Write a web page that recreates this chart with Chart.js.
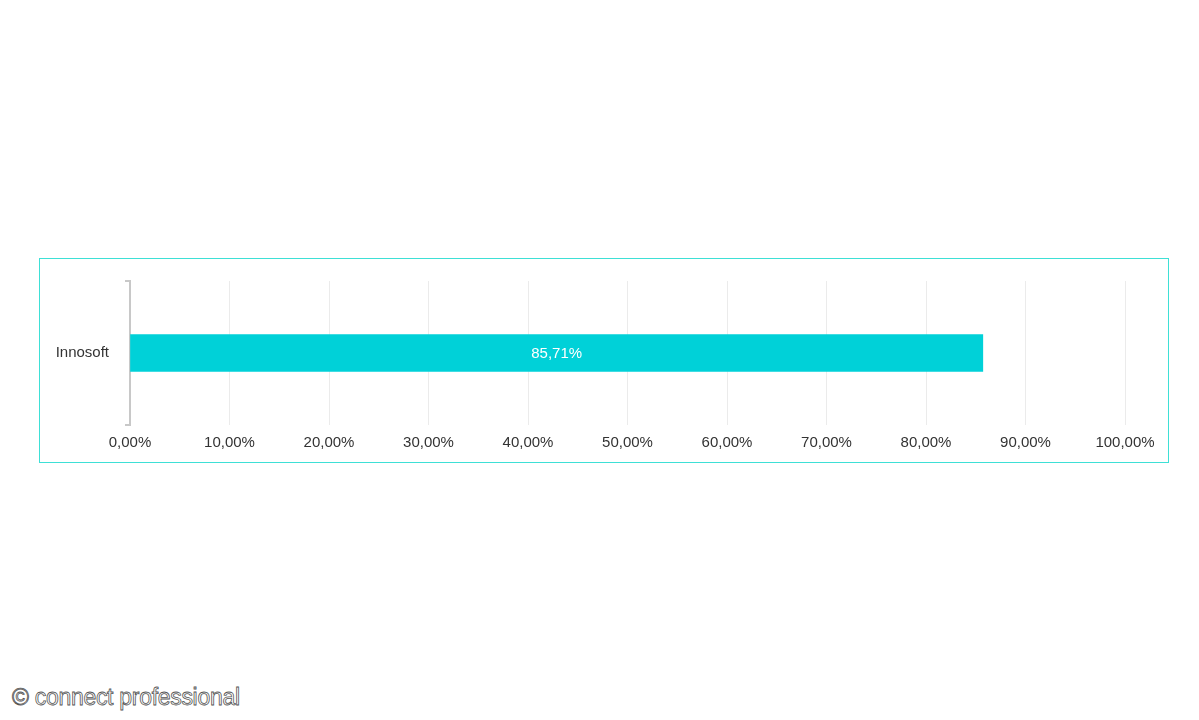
<!DOCTYPE html>
<html><head><meta charset="utf-8">
<script src="https://cdn.jsdelivr.net/npm/chart.js@4"></script>
<style>
body{margin:0;background:#fff;width:1199px;height:720px;position:relative;font-family:"Liberation Sans",Arial,sans-serif}
#box{position:absolute;left:39px;top:258px;width:1128px;height:203px;border:1px solid #3ee0d6}
#wm{position:absolute;left:12px;top:684px;font-size:23px;color:#fff;-webkit-text-stroke:0.8px #555;letter-spacing:-0.3px}
</style></head><body>
<div id="box"><canvas id="c" width="1128" height="203"></canvas></div>
<div id="wm">© connect professional</div>
<script>
const categories=["Innosoft"];
const values=[85.71];
const valueLabels=["85,71%"];
const tickValues=[0,10,20,30,40,50,60,70,80,90,100];
const fmt=v=>v.toFixed(2).replace('.',',')+'%';
const extras={id:'extras',afterDatasetsDraw(ch){
  const c=ch.ctx,ya=ch.scales.y,xa=ch.scales.x;
  c.save();c.strokeStyle='#c8c8c8';c.lineWidth=2;
  c.beginPath();c.moveTo(xa.left-5,ya.top);c.lineTo(xa.left,ya.top);c.moveTo(xa.left-5,ya.bottom);c.lineTo(xa.left,ya.bottom);c.stroke();
  const m=ch.getDatasetMeta(0);
  c.fillStyle='#fff';c.font='15px "Liberation Sans",Arial';c.textAlign='center';c.textBaseline='middle';
  m.data.forEach((b,i)=>{c.fillText(valueLabels[i],(b.base+b.x)/2,b.y+1);});
  c.restore();}};
new Chart(document.getElementById('c'),{type:'bar',
 data:{labels:categories,datasets:[{data:values,backgroundColor:'#00d1d8',barThickness:37}]},
 options:{indexAxis:'y',responsive:false,animation:false,
  layout:{padding:{top:7,right:43,left:0,bottom:0}},
  plugins:{legend:{display:false},tooltip:{enabled:false}},
  scales:{
   x:{min:0,max:100,afterBuildTicks(s){s.ticks=tickValues.map(v=>({value:v}));},
      afterFit(s){s.height=37;},
      grid:{color:'#ebebeb',drawTicks:false},border:{display:false},
      ticks:{callback:v=>fmt(v),color:'#333',font:{size:15,family:'"Liberation Sans",Arial'},padding:9,maxRotation:0,autoSkip:false}},
   y:{afterFit(s){s.width=90;},grid:{display:false},border:{display:true,color:'#c8c8c8',width:2},
      ticks:{color:'#333',font:{size:15,family:'"Liberation Sans",Arial'},padding:13}}
  }},plugins:[extras]});
</script></body></html>
